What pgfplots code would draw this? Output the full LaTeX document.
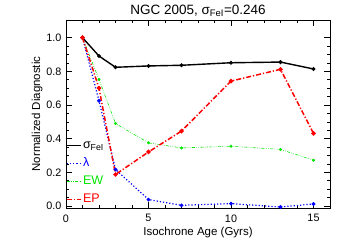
\documentclass[border=0pt]{standalone}
\usepackage{pgfplots}
\pgfplotsset{compat=1.18}
\usepackage{fontspec}
\setmainfont{Liberation Sans}
\definecolor{igreen}{RGB}{0,230,0}
\begin{document}
\begin{tikzpicture}
\begin{axis}[
  scale only axis, width=264pt, height=188pt,
  xmin=0, xmax=16, ymin=-0.012, ymax=1.105,
  xtick={0,5,10,15}, minor x tick num=4,
  ytick={0,0.2,0.4,0.6,0.8,1.0}, minor y tick num=3,
  yticklabel style={/pgf/number format/fixed,/pgf/number format/fixed zerofill,/pgf/number format/precision=1},
  /pgf/number format/assume math mode=true,
  tick align=inside, major tick length=6pt, minor tick length=3pt,
  tick style={black, line width=0.6pt},
  axis line style={line width=0.8pt},
  ticklabel style={font=\fontsize{10.8}{12}\selectfont},
  xticklabel style={yshift=-3pt},
  yticklabel style={xshift=-1pt},
  xlabel={Isochrone Age (Gyrs)}, ylabel={Normalized Diagnostic},
  label style={font=\fontsize{11.5}{13}\selectfont},
  xlabel style={yshift=2pt},
  ylabel style={yshift=-3pt},
  title={NGC 2005, σ\textsubscript{FeI}=0.246},
  title style={font=\fontsize{13.5}{15}\selectfont, yshift=-6pt},
  legend style={draw=none, fill=none, at={(0,0)}, anchor=south west,
    font=\fontsize{12.5}{14}\selectfont, inner sep=0pt, outer sep=0pt,
    row sep=7pt, column sep=1pt,
    nodes={inner sep=0.5pt, text height=8pt, text depth=2pt}, yshift=3pt},
  legend cell align=left,
  legend image code/.code={\draw[#1] (0pt,0pt) -- (14pt,0pt);},
]
\addplot[black, line width=1.4pt, mark=*, mark size=1.2pt] coordinates {
(1,1.0) (2,0.891) (3,0.824) (5,0.832) (7,0.836) (10,0.851) (13,0.855) (15,0.814)};
\addlegendentry{σ\textsubscript{FeI}}
\addplot[blue, line width=1.2pt, dotted, mark=*, mark size=1.2pt, mark options={solid}] coordinates {
(1,1.0) (2,0.625) (3,0.217) (5,0.038) (7,0.004) (10,0.014) (13,-0.006) (15,0.012)};
\addlegendentry{\textcolor{blue}{λ}}
\addplot[igreen, line width=0.6pt, dash pattern=on 3pt off 1.5pt on 0.6pt off 1.5pt on 0.6pt off 1.5pt, mark=*, mark size=1.2pt, mark options={solid}] coordinates {
(1,1.0) (2,0.752) (3,0.49) (5,0.375) (7,0.345) (10,0.355) (13,0.336) (15,0.272)};
\addlegendentry{\textcolor{igreen}{EW}}
\addplot[red, line width=1.5pt, dash pattern=on 5pt off 2pt on 1.2pt off 2pt, mark=*, mark size=1.4pt, mark options={solid}] coordinates {
(1,1.0) (2,0.70) (3,0.187) (5,0.321) (7,0.445) (10,0.742) (13,0.812) (15,0.431)};
\addlegendentry{\textcolor{red}{EP}}
\end{axis}
\path (current axis.south west) ++(-66pt,-42.3pt) coordinate (bl);
\path (current axis.north east) ++(20pt,20pt) coordinate (tr);
\useasboundingbox (bl) rectangle (tr);
\end{tikzpicture}
\end{document}
